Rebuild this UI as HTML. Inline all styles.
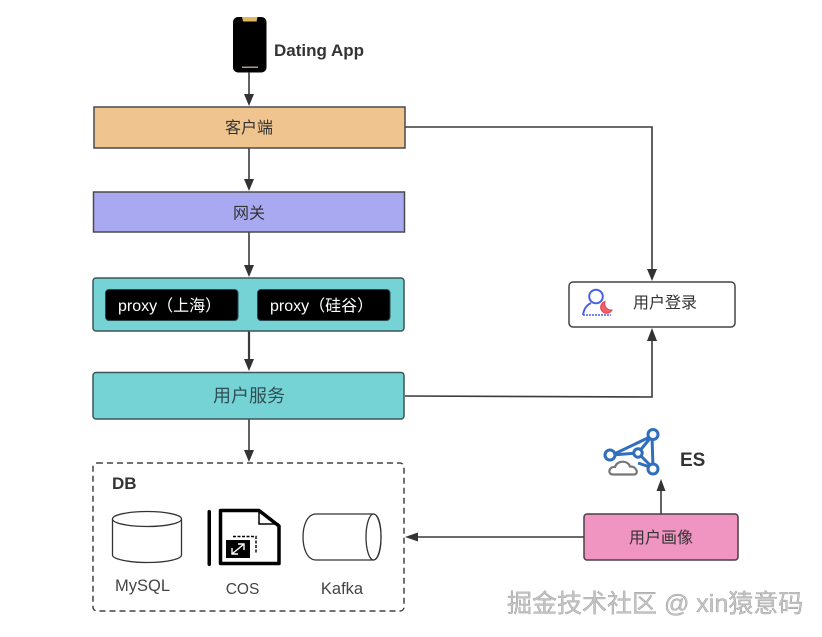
<!DOCTYPE html>
<html>
<head>
<meta charset="utf-8">
<style>
html,body{margin:0;padding:0;background:#fff;width:822px;height:637px;overflow:hidden}
svg{display:block}
text{font-family:"Liberation Sans","Noto Sans CJK SC",sans-serif;fill:#333}
</style>
</head>
<body>
<svg width="822" height="637" viewBox="0 0 822 637" xmlns="http://www.w3.org/2000/svg">
<rect width="822" height="637" fill="#fff"/>

<!-- phone -->
<rect x="233" y="17" width="33.500" height="55.500" rx="5" fill="#000"/>
<path d="M242 17H257.500L256.500 21.500H243Z" fill="#e2b65c"/>
<rect x="242" y="66.500" width="16" height="1.500" fill="#b09a78"/>
<text x="274" y="56" font-size="17" font-weight="700">Dating App</text>

<!-- connectors -->
<g fill="none" stroke="#3a3a3a" stroke-width="1.600">
<path d="M249 72V95"/>
<path d="M249 148V180"/>
<path d="M249 232V266"/>
<path d="M249 331V360" stroke-width="2.200"/>
<path d="M249 419V451"/>
<path d="M405 127L652 127V270"/>
<path d="M405 396L652 397V340"/>
<path d="M584 537L417 537"/>
<path d="M661 514V490"/>
</g>
<g fill="#333">
<path d="M249 106L244 94H254Z"/>
<path d="M249 191L244 179H254Z"/>
<path d="M249 277L244 265H254Z"/>
<path d="M249 371L244 359H254Z"/>
<path d="M249 462L244 450H254Z"/>
<path d="M652 281L647 269H657Z"/>
<path d="M652 328L647 341H657Z"/>
<path d="M405 537L418 532.500V541.500Z"/>
<path d="M661 479L656.500 491H665.500Z"/>
</g>

<!-- boxes -->
<rect x="94" y="107" width="311" height="41" fill="#efc48f" stroke="#4a4a4a" stroke-width="1.500"/>
<text x="249" y="133" font-size="16" text-anchor="middle">客户端</text>

<rect x="93.500" y="192" width="311" height="40" fill="#a9a9f2" stroke="#4a4a4a" stroke-width="1.500"/>
<text x="249" y="218.500" font-size="16" text-anchor="middle">网关</text>

<rect x="93" y="278" width="311" height="53" rx="3" fill="#76d3d5" stroke="#3c5558" stroke-width="1.500"/>
<rect x="105.500" y="289.500" width="132.500" height="31" rx="3.500" fill="#000" stroke="#24474c"/>
<rect x="257.500" y="289.500" width="132.500" height="31" rx="3.500" fill="#000" stroke="#24474c"/>
<text x="118" y="311" font-size="16" style="fill:#fff">proxy（上海）</text>
<text x="270" y="311" font-size="16" style="fill:#fff">proxy（硅谷）</text>

<rect x="93" y="372.500" width="311" height="46.500" rx="3" fill="#76d3d5" stroke="#3c5558" stroke-width="1.500"/>
<text x="249" y="402" font-size="18" text-anchor="middle" style="fill:#2f4f55">用户服务</text>

<!-- DB -->
<rect x="93" y="463" width="311" height="148" rx="4" fill="#fff" stroke="#444" stroke-width="1.500" stroke-dasharray="6 4"/>
<text x="112" y="489" font-size="17" font-weight="700">DB</text>

<!-- MySQL -->
<g fill="#fff" stroke="#333" stroke-width="1.300">
<path d="M112.500 519V555C112.500 559 128 562.500 147.500 562.500S181.500 559 181.500 555V519"/>
<ellipse cx="147" cy="519" rx="34.500" ry="7.500"/>
</g>
<text x="142.500" y="591" font-size="16.500" text-anchor="middle" style="fill:#444">MySQL</text>

<!-- COS -->
<rect x="207.500" y="510" width="3.500" height="56" rx="1.700" fill="#000"/>
<path d="M220.500 510.500H259L279 526V563.500H220.500Z" fill="#fff" stroke="#000" stroke-width="3.500" stroke-linejoin="round"/>
<path d="M259 511V524H279" fill="none" stroke="#000" stroke-width="1.500"/>
<rect x="226" y="540" width="24" height="18" fill="#000"/>
<path d="M232 554L244 544M238 544H244V550M232 548V554H238" fill="none" stroke="#fff" stroke-width="1.400"/>
<path d="M233 536.500H256V553" fill="none" stroke="#000" stroke-width="1.400" stroke-dasharray="3 1.500"/>
<text x="242.500" y="594" font-size="15.500" text-anchor="middle" style="fill:#444">COS</text>

<!-- Kafka -->
<path d="M316 514H373C379 514 381 526 381 537S379 560 373 560H316C307 560 303 548 303 537S307 514 316 514Z" fill="#fff" stroke="#333" stroke-width="1.300"/>
<ellipse cx="373.500" cy="537" rx="7.500" ry="23" fill="#fff" stroke="#333" stroke-width="1.300"/>
<text x="342" y="594" font-size="16.500" text-anchor="middle" style="fill:#444">Kafka</text>

<!-- 用户登录 -->
<rect x="569" y="282" width="166" height="45" rx="4" fill="#fff" stroke="#444" stroke-width="1.500"/>
<text x="665" y="308" font-size="16" text-anchor="middle">用户登录</text>
<circle cx="596" cy="296.500" r="6.800" fill="none" stroke="#4a5fe8" stroke-width="2"/>
<path d="M583 315C584 308 587 305 591 303" fill="none" stroke="#4a5fe8" stroke-width="2"/>
<path d="M583 315H611" stroke="#4a5fe8" stroke-width="1.400" stroke-dasharray="2 1" fill="none"/>
<path d="M605 301.500A6 6 0 1 0 612 310A6.500 6.500 0 0 1 605 301.500Z" fill="#f0606a" stroke="#e8404a"/>

<!-- ES -->
<g fill="none" stroke="#2f6fbd" stroke-width="3">
<path d="M612 455L652 436L653 468L638 463M612 455L638 453L652 436M638 453L653 468"/>
</g>
<g fill="#fff" stroke="#2f6fbd" stroke-width="3">
<circle cx="653" cy="434.500" r="5"/>
<circle cx="610" cy="455" r="5"/>
<circle cx="638" cy="453" r="4.200"/>
<circle cx="653" cy="469" r="5"/>
</g>
<path d="M613 474.500C607 474.500 609 466 615 467C617 460 628 460 630 466.500C637 466 639 474.500 634 474.500Z" fill="#fff" stroke="#777" stroke-width="2.200"/>
<text x="680" y="466" font-size="19" font-weight="700">ES</text>

<!-- 用户画像 -->
<rect x="584" y="514" width="154" height="46" rx="3" fill="#f094c2" stroke="#4c3c48" stroke-width="1.500"/>
<text x="661" y="543" font-size="16" text-anchor="middle">用户画像</text>

<!-- watermark -->
<text x="507" y="612" font-size="25" style="fill:#c4c4c4;stroke:#8a8a8a;stroke-width:.3">掘金技术社区 @ xin猿意码</text>
</svg>
</body>
</html>
